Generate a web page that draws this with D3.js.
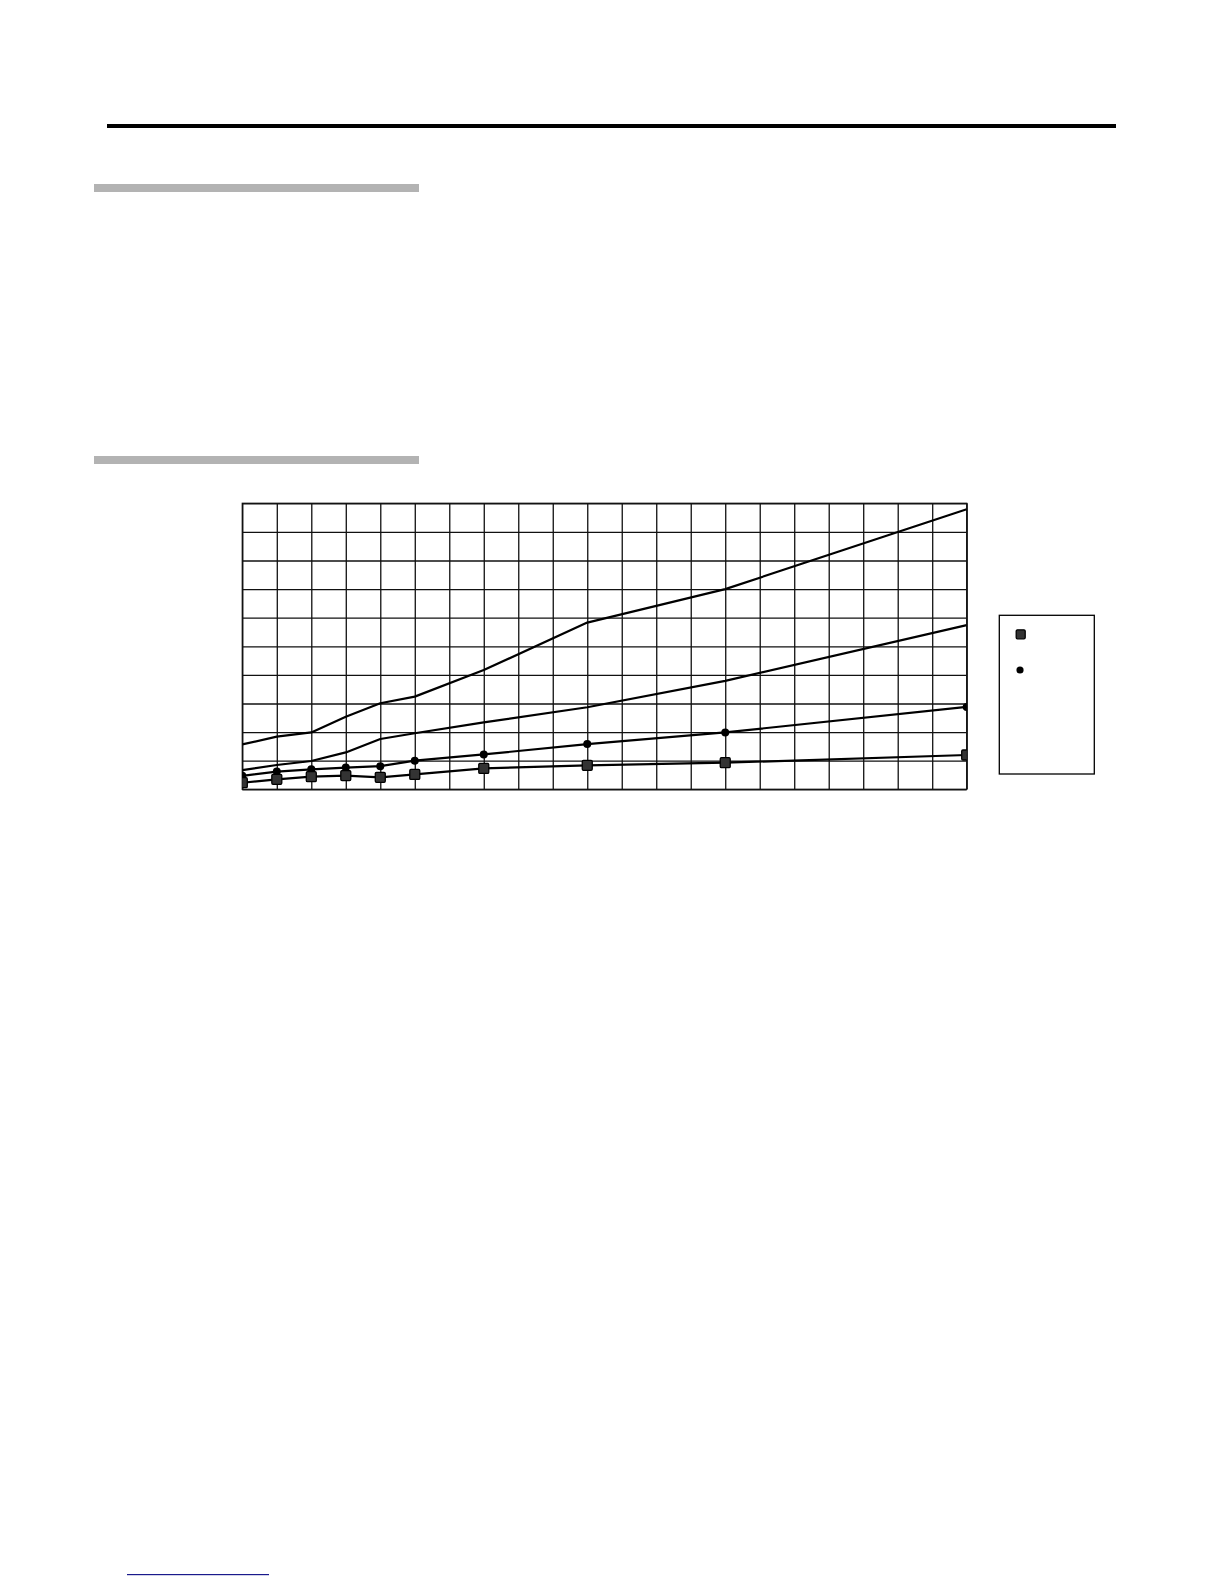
<!DOCTYPE html>
<html>
<head>
<meta charset="utf-8">
<script src="https://cdnjs.cloudflare.com/ajax/libs/d3/7.8.5/d3.min.js"></script>
<style>
  html, body { margin: 0; padding: 0; background: #fff; }
  svg { display: block; }
</style>
</head>
<body>
<div id="page"></div>
<script>
(function() {
  // x positions of the measurements (grid columns)
  var xValues = [0, 1, 2, 3, 4, 5, 7, 10, 14, 21];
  // series values, in grid units
  var squareSeries = [0.23, 0.35, 0.44, 0.48, 0.42, 0.52, 0.73, 0.84, 0.93, 1.20];
  var circleSeries = [0.47, 0.62, 0.70, 0.76, 0.81, 1.00, 1.22, 1.58, 1.99, 2.88];
  var thirdSeries  = [0.67, 0.85, 0.99, 1.29, 1.76, 1.96, 2.34, 2.87, 3.79, 5.74];
  var topSeries    = [1.57, 1.84, 1.99, 2.54, 3.01, 3.24, 4.17, 5.83, 7.00, 9.79];
  var xTicks = d3.range(0, 22);
  var yTicks = d3.range(0, 11);

  var WIDTH = 1224, HEIGHT = 1584;
  var svg = d3.select('#page').append('svg')
    .attr('width', WIDTH)
    .attr('height', HEIGHT);

  // page furniture
  svg.append('rect').attr('x', 107).attr('y', 124).attr('width', 1009).attr('height', 4).attr('fill', '#000');
  svg.append('rect').attr('x', 94).attr('y', 184).attr('width', 325).attr('height', 8).attr('fill', '#b3b3b3');
  svg.append('rect').attr('x', 94).attr('y', 456).attr('width', 325).attr('height', 8).attr('fill', '#b3b3b3');
  svg.append('rect').attr('x', 127).attr('y', 1574).attr('width', 142).attr('height', 1.2).attr('fill', '#1a1a8c');

  var left = 242.3, right = 966.7, top = 503.3, bottom = 789.3;
  var x = d3.scaleLinear().domain([0, 21]).range([left, right]);
  var y = d3.scaleLinear().domain([0, 10]).range([bottom, top]);

  var grid = svg.append('g');
  grid.append('g')
    .attr('transform', 'translate(0,' + bottom + ')')
    .call(d3.axisBottom(x).tickValues(xTicks).tickSize(-(bottom - top)).tickFormat(''))
    .call(function(g) { g.select('.domain').remove(); });
  grid.append('g')
    .attr('transform', 'translate(' + left + ',0)')
    .call(d3.axisLeft(y).tickValues(yTicks).tickSize(-(right - left)).tickFormat(''))
    .call(function(g) { g.select('.domain').remove(); });
  grid.selectAll('line').attr('stroke', '#111').attr('stroke-width', 1.3);
  svg.append('rect')
    .attr('x', left).attr('y', top)
    .attr('width', right - left).attr('height', bottom - top)
    .attr('fill', 'none').attr('stroke', '#111').attr('stroke-width', 1.3);

  svg.append('clipPath').attr('id', 'plotclip')
    .append('rect')
    .attr('x', left).attr('y', top)
    .attr('width', right - left).attr('height', bottom - top);

  var plot = svg.append('g').attr('clip-path', 'url(#plotclip)');
  var line = d3.line()
    .x(function(d) { return x(d[0]); })
    .y(function(d) { return y(d[1]); });

  function pairs(vals) {
    return xValues.map(function(xv, i) { return [xv, vals[i]]; });
  }

  [topSeries, thirdSeries, circleSeries, squareSeries].forEach(function(s) {
    plot.append('path')
      .attr('d', line(pairs(s)))
      .attr('fill', 'none')
      .attr('stroke', '#000')
      .attr('stroke-width', 2.2)
      .attr('stroke-linejoin', 'round');
  });

  plot.selectAll('circle.pt')
    .data(pairs(circleSeries))
    .enter().append('circle')
    .attr('class', 'pt')
    .attr('cx', function(d) { return x(d[0]); })
    .attr('cy', function(d) { return y(d[1]); })
    .attr('r', 4)
    .attr('fill', '#000');

  plot.selectAll('rect.pt')
    .data(pairs(squareSeries))
    .enter().append('rect')
    .attr('class', 'pt')
    .attr('x', function(d) { return x(d[0]) - 5; })
    .attr('y', function(d) { return y(d[1]) - 5; })
    .attr('width', 10).attr('height', 10)
    .attr('rx', 1.2)
    .attr('fill', '#333')
    .attr('stroke', '#000')
    .attr('stroke-width', 1.3);

  // legend box, no labels visible in the reference
  var legend = svg.append('g');
  legend.append('rect')
    .attr('x', 999.3).attr('y', 615.3)
    .attr('width', 95).attr('height', 158.7)
    .attr('fill', '#fff').attr('stroke', '#000').attr('stroke-width', 1.3);
  legend.append('rect')
    .attr('x', 1016.2).attr('y', 629.8)
    .attr('width', 9).attr('height', 9).attr('rx', 1.2)
    .attr('fill', '#333').attr('stroke', '#000').attr('stroke-width', 1.3);
  legend.append('circle')
    .attr('cx', 1020).attr('cy', 670).attr('r', 3.6).attr('fill', '#000');
})();
</script>
</body>
</html>
